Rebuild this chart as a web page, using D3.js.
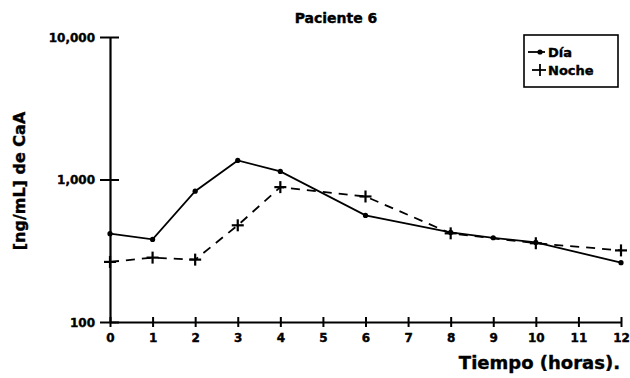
<!DOCTYPE html>
<html>
<head>
<meta charset="utf-8">
<script src="https://cdnjs.cloudflare.com/ajax/libs/d3/7.8.5/d3.min.js"></script>
<style>
  body { margin: 0; background: #fff; }
  text { font-family: "DejaVu Sans", sans-serif; font-weight: bold; fill: #000; stroke: #000; stroke-width: 0.4px; }
</style>
</head>
<body>
<script>
var title = "Paciente 6";
var xLabel = "Tiempo (horas).";
var yLabel = "[ng/mL] de CaA";
var xTicks = [0, 1, 2, 3, 4, 5, 6, 7, 8, 9, 10, 11, 12];
var yTicks = [100, 1000, 10000];

// Día (solid line, dots)
var diaHoras = [0, 1, 2, 3, 4, 6, 8, 9, 10, 12];
var diaValores = [417, 380, 828, 1360, 1140, 560, 425, 390, 362, 261];

// Noche (dashed line, crosses)
var nocheHoras = [0, 1, 2, 3, 4, 6, 8, 10, 12];
var nocheValores = [264, 283, 274, 477, 884, 760, 419, 357, 318];

var width = 630, height = 378;
var svg = d3.select('body').append('svg')
    .attr('width', width)
    .attr('height', height);

var x = d3.scaleLinear().domain([0, 12]).range([110, 621]);
var y = d3.scaleLog().domain([100, 10000]).range([322, 37]);

// title
svg.append('text')
    .attr('x', 336).attr('y', 23)
    .attr('text-anchor', 'middle')
    .style('font-size', '14px')
    .text(title);

// y axis
var yAxis = d3.axisLeft(y)
    .tickValues(yTicks)
    .tickSize(0)
    .tickPadding(15)
    .tickFormat(d3.format(','));
var gy = svg.append('g').attr('transform', 'translate(110,0)').call(yAxis);
gy.select('.domain').attr('stroke', '#000').attr('stroke-width', 2.2);
gy.selectAll('.tick text').style('font-size', '12px').attr('dy', '0.35em');
gy.selectAll('.tick').append('line')
    .attr('x1', -10).attr('x2', 9)
    .attr('stroke', '#000').attr('stroke-width', 2);

// x axis
var xAxis = d3.axisBottom(x)
    .tickValues(xTicks)
    .tickSize(0)
    .tickPadding(11);
var gx = svg.append('g').attr('transform', 'translate(0,322)').call(xAxis);
gx.select('.domain').attr('stroke', '#000').attr('stroke-width', 2);
gx.selectAll('.tick text').style('font-size', '12px');
gx.selectAll('.tick').append('line')
    .attr('y1', -5).attr('y2', 5)
    .attr('stroke', '#000').attr('stroke-width', 2);

// axis titles
svg.append('text')
    .attr('x', 620).attr('y', 369)
    .attr('text-anchor', 'end')
    .style('font-size', '18px')
    .text(xLabel);

svg.append('text')
    .attr('transform', 'translate(25,181) rotate(-90)')
    .attr('text-anchor', 'middle')
    .style('font-size', '16px')
    .text(yLabel);

// series
var line = d3.line()
    .x(function (d) { return x(d[0]); })
    .y(function (d) { return y(d[1]); });

var dia = d3.zip(diaHoras, diaValores);
var noche = d3.zip(nocheHoras, nocheValores);

svg.append('path')
    .datum(noche)
    .attr('d', line)
    .attr('fill', 'none')
    .attr('stroke', '#000')
    .attr('stroke-width', 1.8)
    .attr('stroke-dasharray', '9,7');

svg.append('path')
    .datum(dia)
    .attr('d', line)
    .attr('fill', 'none')
    .attr('stroke', '#000')
    .attr('stroke-width', 1.8);

svg.selectAll('circle.dia')
    .data(dia)
    .enter().append('circle')
    .attr('class', 'dia')
    .attr('cx', function (d) { return x(d[0]); })
    .attr('cy', function (d) { return y(d[1]); })
    .attr('r', 2.6)
    .attr('fill', '#000');

svg.selectAll('g.noche')
    .data(noche)
    .enter().append('g')
    .attr('class', 'noche')
    .attr('transform', function (d) { return 'translate(' + x(d[0]) + ',' + y(d[1]) + ')'; })
    .each(function () {
        var g = d3.select(this);
        g.append('line').attr('x1', -6).attr('x2', 6).attr('stroke', '#000').attr('stroke-width', 2.2);
        g.append('line').attr('y1', -6).attr('y2', 6).attr('stroke', '#000').attr('stroke-width', 2.2);
    });

// legend
var lg = svg.append('g').attr('transform', 'translate(524,35)');
lg.append('rect')
    .attr('width', 94).attr('height', 52)
    .attr('fill', '#fff').attr('stroke', '#000').attr('stroke-width', 1.6);
lg.append('line').attr('x1', 4).attr('x2', 21).attr('y1', 17).attr('y2', 17)
    .attr('stroke', '#000').attr('stroke-width', 1.8);
lg.append('circle').attr('cx', 16).attr('cy', 17).attr('r', 2.6).attr('fill', '#000');
lg.append('text').attr('x', 24).attr('y', 22).style('font-size', '13px').text('Día');
lg.append('line').attr('x1', 8).attr('x2', 22).attr('y1', 35).attr('y2', 35)
    .attr('stroke', '#000').attr('stroke-width', 1.8);
lg.append('line').attr('x1', 16).attr('x2', 16).attr('y1', 29).attr('y2', 41)
    .attr('stroke', '#000').attr('stroke-width', 1.8);
lg.append('text').attr('x', 24).attr('y', 40).style('font-size', '13px').text('Noche');
</script>
</body>
</html>
